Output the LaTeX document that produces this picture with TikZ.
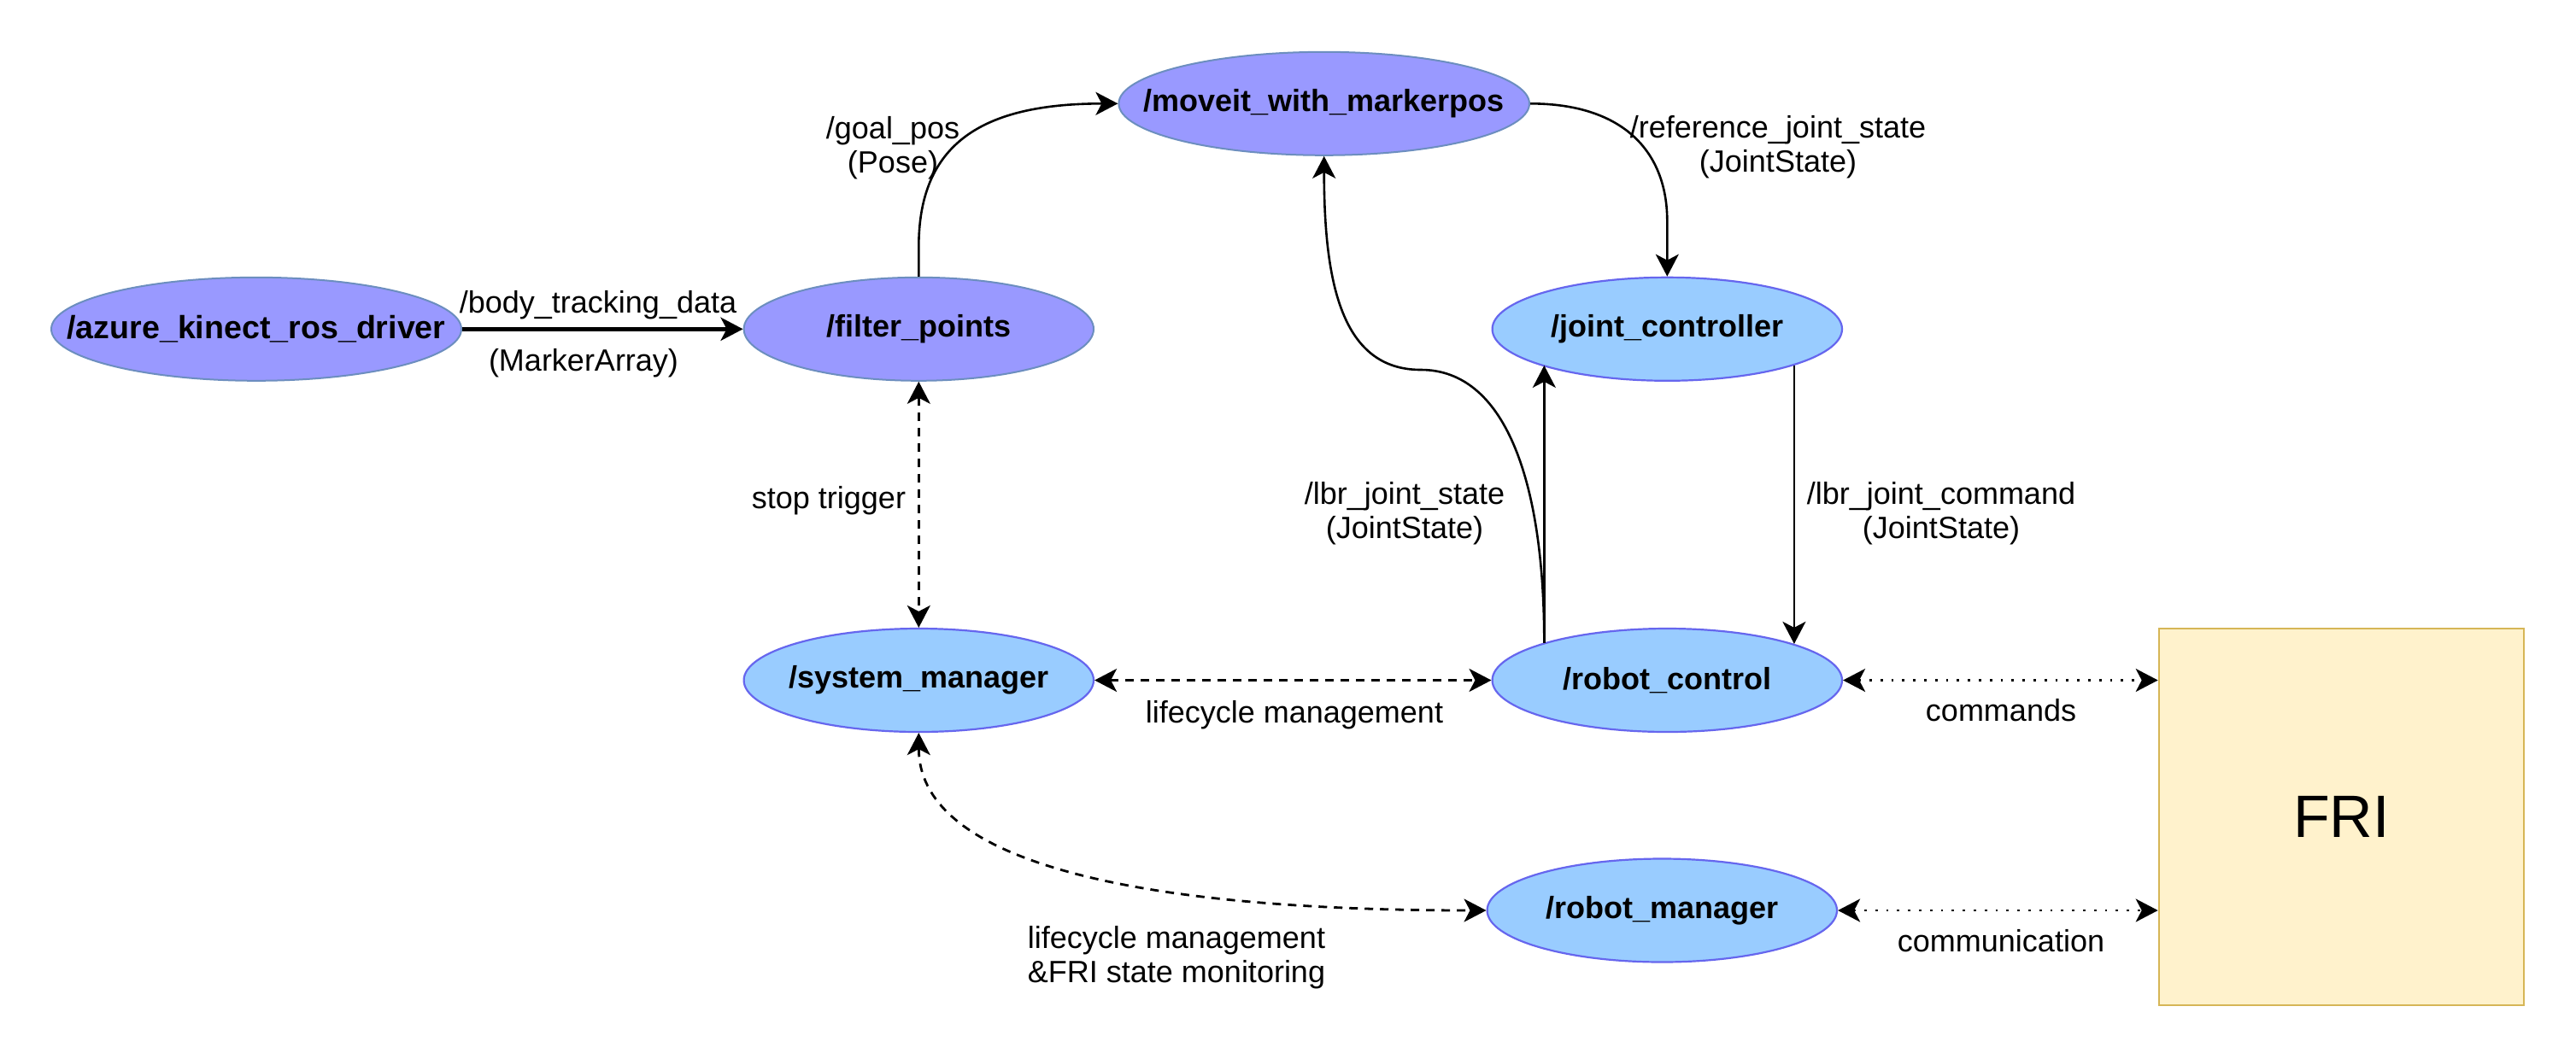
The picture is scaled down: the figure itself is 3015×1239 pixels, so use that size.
\documentclass[tikz,border=0pt]{standalone}
\usepackage{fontspec}
\setmainfont{Liberation Sans}
\usetikzlibrary{arrows.meta,shapes.geometric,calc}
\definecolor{darkfill}{HTML}{9999FF}
\definecolor{darkline}{HTML}{6C8EBF}
\definecolor{lightfill}{HTML}{99CCFF}
\definecolor{lightline}{HTML}{6666EE}
\definecolor{frifill}{HTML}{FFF2CC}
\definecolor{friline}{HTML}{D6B656}
\newcommand\zerowtext[1]{\makebox[0pt]{#1}}
\begin{document}
\begin{tikzpicture}[x=0.5pt,y=-0.5pt,
  >={Stealth[length=13pt,width=13.5pt,inset=3.5pt]},
  rosnode/.style={ellipse, inner sep=0pt, minimum height=60.5pt,
    font=\fontsize{18}{21.6}\selectfont\bfseries},
  darknode/.style={rosnode, fill=darkfill, draw=darkline, line width=1pt},
  lightnode/.style={rosnode, fill=lightfill, draw=lightline, line width=1.1pt},
  lbl/.style={font=\fontsize{18}{20}\selectfont, align=center, inner sep=0pt},
  conn/.style={line width=1.3pt, ->},
  dashconn/.style={line width=1.4pt, <->, dash pattern=on 5pt off 4pt},
  dotconn/.style={line width=1.4pt, <->, dash pattern=on 1.4pt off 5pt}
]
\fill[white] (0,0) rectangle (3015,1239);
\useasboundingbox (0,0) rectangle (3015,1239);

% nodes
\node[darknode, minimum width=240pt] (azure) at (300,385.3) {\zerowtext{\fontsize{18.8}{21.6}\selectfont/azure\_kinect\_ros\_driver}};
\node[darknode, minimum width=204.7pt] (filter) at (1075.3,385.3) {\zerowtext{/filter\_points}};
\node[darknode, minimum width=240.3pt] (moveit) at (1549.7,121.3) {\zerowtext{/moveit\_with\_markerpos}};
\node[lightnode, minimum width=204.7pt] (jc) at (1951.3,385.3) {\zerowtext{/joint\_controller}};
\node[lightnode, minimum width=204.7pt] (sm) at (1075.3,796.5) {\zerowtext{/system\_manager}};
\node[lightnode, minimum width=204.7pt] (rc) at (1951.3,796.5) {\zerowtext{/robot\_control}};
\node[lightnode, minimum width=204.7pt] (rm) at (1945.3,1066) {\zerowtext{/robot\_manager}};
\node[draw=friline, fill=frifill, line width=1.3pt, minimum width=213.5pt,
  minimum height=220.5pt, inner sep=0pt, font=\fontsize{35}{42}\selectfont]
  (fri) at (2740.5,956.5) {FRI};

% connectors
\draw[conn, line width=2.4pt] (azure.east) -- (filter.west);
\draw[conn] (filter.north) -- ++(0,-35) .. controls +(0,-120) and +(-160,0) .. (moveit.west);
\draw[conn] (moveit.east) .. controls +(110,0) and +(0,-80) .. ($(jc.north)+(0,-65)$) -- (jc.north);
\coordinate (kink) at (1663,433);
\draw[conn] (rc.163.5) .. controls +(0,-193) and +(97,0) .. (kink)
  .. controls +(-93,0) and +(0,148) .. (moveit.south);
\draw[conn] (rc.163.5) -- (rc.163.5 |- jc.196.5);
\draw[conn] (jc.-16.5) -- (jc.-16.5 |- rc.16.5);

\draw[dashconn] (filter.south) -- (sm.north);
\draw[dashconn] (sm.east) -- (rc.west);
\draw[dashconn] (sm.south) .. controls +(0,143) and +(-440,0) .. (rm.west);

\draw[dotconn] (rc.east) -- (rc.east -| fri.west);
\draw[dotconn] (rm.east) -- (rm.east -| fri.west);

% labels
\node[lbl] (lbody) at (700,357) {/body\_tracking\_data};
\node[lbl] (lmarker) at (683,425) {(MarkerArray)};
\node[lbl] (lgoal) at (1045,173) {/goal\_pos\\(Pose)};
\node[lbl] (lref) at (2081,172) {/reference\_joint\_state\\(JointState)};
\node[lbl] (llbrs) at (1644,601) {/lbr\_joint\_state\\(JointState)};
\node[lbl] (llbrc) at (2272,601) {/lbr\_joint\_command\\(JointState)};
\node[lbl] (lstop) at (970,586) {stop trigger};
\node[lbl] (llife) at (1515,837) {lifecycle management};
\node[lbl] (llife2) at (1377,1121) {lifecycle management\\\&FRI state monitoring};
\node[lbl] (lcmd) at (2342,832) {commands};
\node[lbl] (lcomm) at (2342,1102) {communication};
\end{tikzpicture}
\end{document}
